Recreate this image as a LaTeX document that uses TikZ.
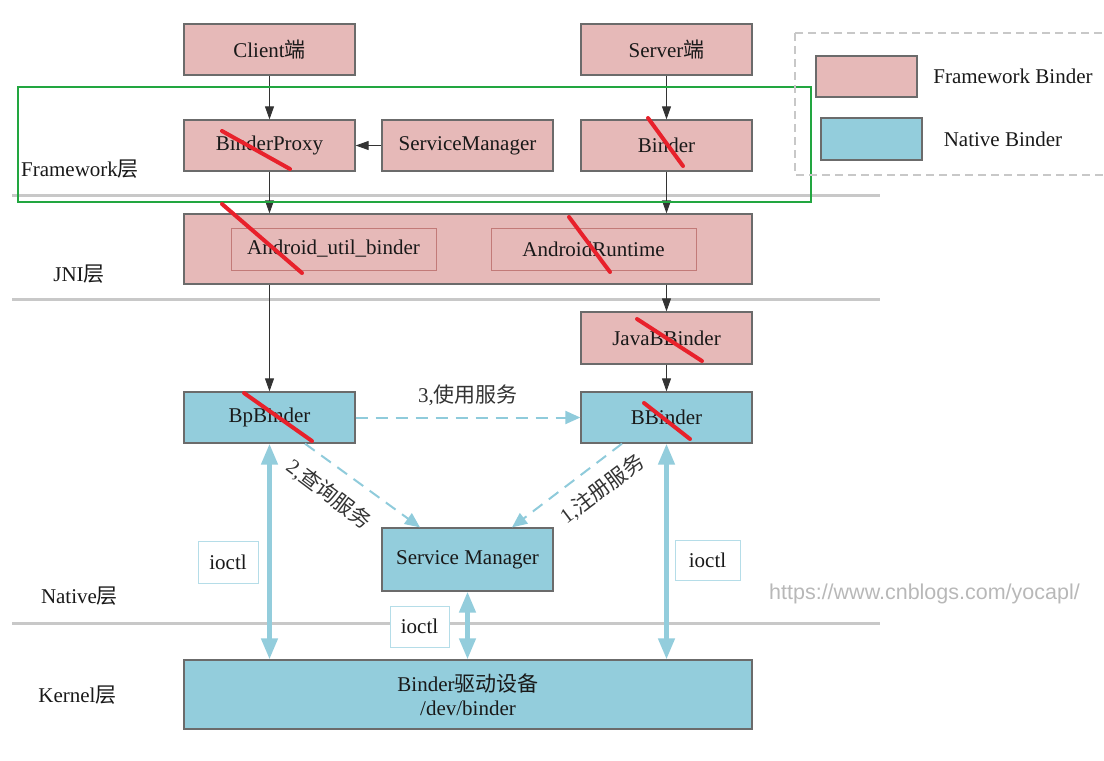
\documentclass[tikz,border=0pt]{standalone}
\usepackage{fontspec}
\setmainfont{Liberation Serif}
\setsansfont{Liberation Sans}
\newfontfamily\cjkfont{Noto Sans CJK SC}
\newcommand{\zhtext}[1]{{\cjkfont #1}}
\usetikzlibrary{arrows.meta,calc}
\definecolor{pinkfill}{HTML}{E6B9B8}
\definecolor{bluefill}{HTML}{93CDDC}
\definecolor{boxline}{HTML}{6B6B6B}
\definecolor{layerline}{HTML}{C8C8C8}
\definecolor{greenline}{HTML}{22A640}
\definecolor{strike}{HTML}{E8212B}
\definecolor{dashblue}{HTML}{8FCBDB}
\definecolor{innerline}{HTML}{C27A78}
\definecolor{ioctlline}{HTML}{B5DDE8}
\definecolor{watermark}{HTML}{B8B8B8}
\begin{document}
\begin{tikzpicture}[x=1pt,y=-1pt,
  font=\fontsize{21}{24}\selectfont,
  fwbox/.style={draw=boxline, line width=1.3pt, fill=pinkfill, minimum width=171pt, minimum height=51pt, inner sep=0pt, text=black!90},
  nbbox/.style={fwbox, fill=bluefill},
  innerbox/.style={draw=innerline, line width=1pt, minimum width=205pt, minimum height=42pt, inner sep=0pt, text=black!90},
  flow/.style={-{Triangle[width=9pt,length=13pt]}, line width=0.9pt, draw=black!80},
  ioctlarrow/.style={{Triangle[width=16pt,length=21pt]}-{Triangle[width=16pt,length=21pt]}, line width=4.5pt, draw=bluefill},
  dasharrow/.style={-{Triangle[width=13pt,length=15pt]}, line width=2pt, dash pattern=on 12pt off 8pt, draw=dashblue},
  ioctlbox/.style={draw=ioctlline, line width=1pt, fill=white, inner sep=0pt, text=black!90},
  layerrule/.style={draw=layerline, line width=3pt},
  strikeout/.style={draw=strike, line width=4pt, line cap=round},
  layerlabel/.style={text=black!90},
  steplabel/.style={text=black!80}
]
\useasboundingbox (0,0) rectangle (1104,761);

% layer separators
\coordinate (l1a) at (12,195); \coordinate (l1b) at (880,195);
\coordinate (l2a) at (12,299); \coordinate (l2b) at (880,299);
\coordinate (l3a) at (12,623); \coordinate (l3b) at (880,623);
\draw[layerrule] (l1a) -- (l1b);
\draw[layerrule] (l2a) -- (l2b);
\draw[layerrule] (l3a) -- (l3b);

% layer labels
\node[layerlabel] (lfw) at (80,169) {Framework\zhtext{层}};
\node[layerlabel] (ljni) at (79,274) {JNI\zhtext{层}};
\node[layerlabel] (lnat) at (79.5,596) {Native\zhtext{层}};
\node[layerlabel] (lker) at (77.5,695) {Kernel\zhtext{层}};

% framework
\node[fwbox] (client) at (269.5,49.5) {Client\zhtext{端}};
\node[fwbox] (server) at (666.5,49.5) {Server\zhtext{端}};
\node[fwbox] (bproxy) at (269.5,145.5) {BinderProxy};
\node[fwbox] (smj) at (467.5,145.5) {ServiceManager};
\node[fwbox] (binder) at (666.5,145.5) {Binder};

% JNI
\node[fwbox, minimum width=568pt, minimum height=70pt] (jni) at (468,249) {};
\node[innerbox] (aub) at (333.5,249) {Android\_util\_binder};
\node[innerbox] (art) at (593.5,249) {AndroidRuntime};

% native
\node[fwbox, minimum height=52pt] (jbb) at (666.5,338) {JavaBBinder};
\node[nbbox] (bp) at (269.5,417.5) {BpBinder};
\node[nbbox] (bb) at (666.5,417.5) {BBinder};
\node[nbbox, minimum height=63pt] (sm) at (467.5,559.5) {Service Manager};

% kernel
\node[nbbox, minimum width=568pt, minimum height=69pt, align=center] (drv) at (468,694.5) {Binder\zhtext{驱动设备}\\/dev/binder};

% black flow arrows
\draw[flow] (client) -- (bproxy);
\draw[flow] (server) -- (binder);
\draw[flow] (smj) -- (bproxy);
\draw[flow] (bproxy.south) -- (bproxy.south |- jni.north);
\draw[flow] (binder.south) -- (binder.south |- jni.north);
\draw[flow] (jni.south -| bp.north) -- (bp.north);
\draw[flow] (jni.south -| jbb.north) -- (jbb.north);
\draw[flow] (jbb) -- (bb);

% dashed service arrows
\coordinate (qs) at ([xshift=35.5pt]bp.south);
\coordinate (qe) at ([xshift=-47.5pt]sm.north);
\coordinate (rs) at ([xshift=-44.5pt]bb.south);
\coordinate (re) at ([xshift=44.5pt]sm.north);
\draw[dasharrow] (bp) -- (bb);
\draw[dasharrow] (qs) -- (qe);
\draw[dasharrow] (rs) -- (re);
\node[steplabel] (use) at (468,395) {3,\zhtext{使用服务}};
\node[steplabel, rotate=-37] (query) at (329,494) {2,\zhtext{查询服务}};
\node[steplabel, rotate=37] (reg) at (602,489) {1,\zhtext{注册服务}};

% ioctl arrows
\draw[ioctlarrow] (bp.south) -- (bp.south |- drv.north);
\draw[ioctlarrow] (bb.south) -- (bb.south |- drv.north);
\draw[ioctlarrow] (sm.south) -- (sm.south |- drv.north);
\node[ioctlbox, minimum width=60pt, minimum height=42pt] (io1) at (228,562) {ioctl};
\node[ioctlbox, minimum width=65pt, minimum height=40pt] (io2) at (707.5,560) {ioctl};
\node[ioctlbox, minimum width=59pt, minimum height=41pt] (io3) at (419.5,626.5) {ioctl};

% green frame
\draw[greenline, line width=2pt] (18,87) rectangle (811,202);

% legend
\draw[layerline, line width=1.5pt, dash pattern=on 8pt off 5pt] (795,33) rectangle (1112,175);
\node[fwbox, minimum width=101pt, minimum height=41pt] (legfw) at (866.5,76.5) {};
\node[nbbox, minimum width=101pt, minimum height=42pt] (legnb) at (871.5,139) {};
\node[layerlabel] (legfwt) at (1013,76) {Framework Binder};
\node[layerlabel] (legnbt) at (1003,139) {Native Binder};

% watermark
\node[text=watermark, font=\sffamily\fontsize{21.5}{24}\selectfont] (wm) at (924.5,594) {https://www.cnblogs.com/yocapl/};

% red strikes
\draw[strikeout] (222,131) -- (290,169);
\draw[strikeout] (222,204) -- (302,273);
\draw[strikeout] (569,217) -- (610,272);
\draw[strikeout] (648,118) -- (683,166);
\draw[strikeout] (637,319) -- (702,361);
\draw[strikeout] (244,393) -- (312,441);
\draw[strikeout] (644,403) -- (690,439);
\end{tikzpicture}
\end{document}
